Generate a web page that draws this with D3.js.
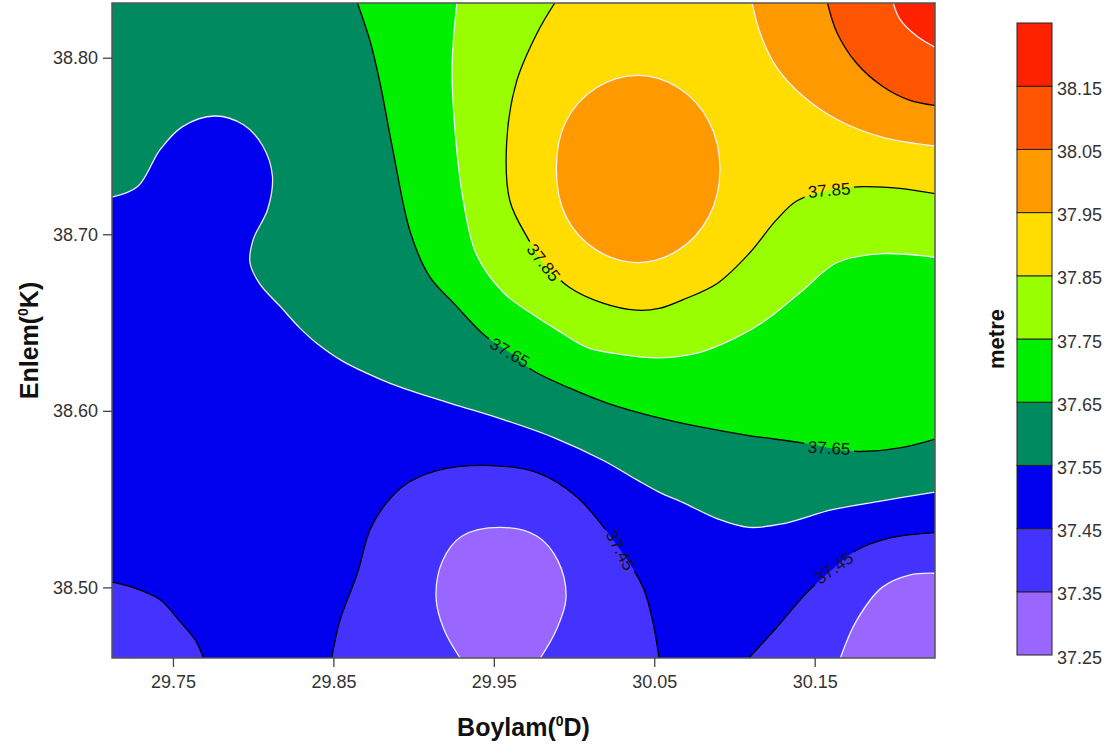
<!DOCTYPE html>
<html>
<head>
<meta charset="utf-8">
<script src="https://cdn.jsdelivr.net/npm/d3@7"></script>
<style>
  body { margin: 0; background: #fff; }
  text { font-family: "Liberation Sans", Arial, sans-serif; }
</style>
</head>
<body>
<div id="chart"></div>
<script>
/* * * * * * * * * * * * * * * *
 *   Contour map - metre        *
 * * * * * * * * * * * * * * * */

// axis ticks
const xTicks = [29.75, 29.85, 29.95, 30.05, 30.15];
const yTicks = [38.50, 38.60, 38.70, 38.80];

// contour levels and band colours (low -> high)
const levels = [37.25, 37.35, 37.45, 37.55, 37.65, 37.75, 37.85, 37.95, 38.05, 38.15, 38.25];
const bandColors = ["#9966ff", "#4433ff", "#0000ee", "#008a60", "#00f000",
                    "#99ff00", "#ffdd00", "#ff9900", "#ff5500", "#ff2200"];

// contour lines, [lon, lat]
const line3735mid = [[29.929,38.460],[29.919,38.476],[29.914,38.494],[29.918,38.515],[29.930,38.529],
  [29.954,38.534],[29.977,38.529],[29.990,38.515],[29.995,38.494],[29.989,38.476],[29.979,38.460]];
const line3735right = [[30.166,38.460],[30.176,38.481],[30.192,38.500],[30.209,38.507],[30.225,38.508]];

const line3745left = [[29.712,38.503],[29.725,38.500],[29.742,38.493],[29.754,38.481],[29.764,38.470],[29.769,38.460]];
const line3745mid = [[29.849,38.460],[29.854,38.481],[29.865,38.508],[29.874,38.535],[29.893,38.557],[29.914,38.566],
  [29.948,38.569],[29.977,38.565],[30.002,38.551],[30.029,38.521],[30.043,38.500],[30.049,38.481],[30.053,38.460]];
const line3745right = [[30.109,38.460],[30.126,38.477],[30.145,38.497],[30.162,38.511],[30.176,38.521],
  [30.197,38.528],[30.225,38.531]];

const line3755 = [[29.712,38.721],[29.728,38.727],[29.742,38.748],[29.756,38.761],[29.776,38.767],[29.794,38.762],
  [29.806,38.750],[29.812,38.733],[29.809,38.714],[29.800,38.697],[29.798,38.684],[29.804,38.672],[29.817,38.659],
  [29.829,38.647],[29.840,38.638],[29.856,38.628],[29.879,38.618],[29.893,38.613],[29.924,38.604],[29.956,38.595],
  [29.987,38.585],[30.018,38.572],[30.039,38.561],[30.053,38.554],[30.068,38.548],[30.089,38.539],[30.109,38.534],
  [30.130,38.536],[30.161,38.544],[30.192,38.549],[30.225,38.554]];

const line3765 = [[29.865,38.831],[29.873,38.809],[29.879,38.786],[29.887,38.748],[29.898,38.701],[29.910,38.676],
  [29.926,38.660],[29.944,38.643],[29.960,38.633],[29.974,38.623],[29.997,38.613],[30.022,38.604],[30.053,38.596],
  [30.078,38.591],[30.109,38.586],[30.141,38.582],[30.159,38.579],[30.176,38.577],[30.203,38.579],[30.225,38.584]];

const line3775 = [[29.927,38.831],[29.924,38.795],[29.926,38.757],[29.931,38.719],[29.939,38.689],[29.956,38.667],
  [29.977,38.653],[29.991,38.645],[30.008,38.636],[30.029,38.632],[30.053,38.630],[30.078,38.633],[30.100,38.641],
  [30.119,38.651],[30.141,38.667],[30.164,38.684],[30.192,38.689],[30.225,38.687]];

const line3785 = [[29.988,38.831],[29.977,38.814],[29.964,38.786],[29.958,38.752],[29.960,38.719],[29.971,38.698],
  [29.981,38.684],[29.997,38.670],[30.018,38.661],[30.039,38.657],[30.053,38.658],[30.068,38.663],[30.089,38.672],
  [30.109,38.689],[30.126,38.708],[30.139,38.719],[30.159,38.725],[30.180,38.727],[30.203,38.726],[30.225,38.723]];

const ring3795 = [[30.091,38.737],[30.084,38.764],[30.065,38.783],[30.040,38.790],[30.014,38.783],[29.995,38.764],
  [29.989,38.737],[29.995,38.710],[30.014,38.691],[30.040,38.684],[30.065,38.691],[30.084,38.710]];
const line3795 = [[30.111,38.831],[30.116,38.814],[30.126,38.795],[30.143,38.778],[30.164,38.765],[30.192,38.755],[30.225,38.750]];

const line3805 = [[30.158,38.831],[30.164,38.814],[30.176,38.797],[30.192,38.784],[30.209,38.776],[30.225,38.773]];
const line3815 = [[30.199,38.831],[30.203,38.822],[30.214,38.812],[30.225,38.806]];

// inline contour labels: [lon, lat, angle]
const labelText = ["37.85", "37.85", "37.65", "37.65", "37.45", "37.45"];
const labelPos = [[29.981,38.684,52],[30.159,38.725,-5],[29.960,38.633,30],[30.159,38.579,3],[30.029,38.521,62],[30.162,38.511,-35]];

// which side of each line is filled, and which plot corners close it
const contours = [
  { level: 37.45, side: "low", pts: line3745left, close: ["bl"] },
  { level: 37.45, side: "low", pts: line3745mid, close: [] },
  { level: 37.45, side: "low", pts: line3745right, close: ["br"] },
  { level: 37.35, side: "low", pts: line3735mid, close: [] },
  { level: 37.35, side: "low", pts: line3735right, close: ["br"] },
  { level: 37.55, side: "high", pts: line3755, close: ["tr", "tl"] },
  { level: 37.65, side: "high", pts: line3765, close: ["tr"] },
  { level: 37.75, side: "high", pts: line3775, close: ["tr"] },
  { level: 37.85, side: "high", pts: line3785, close: ["tr"] },
  { level: 37.95, side: "high", pts: ring3795, ring: true },
  { level: 37.95, side: "high", pts: line3795, close: ["tr"] },
  { level: 38.05, side: "high", pts: line3805, close: ["tr"] },
  { level: 38.15, side: "high", pts: line3815, close: ["tr"] }
];

// ---------------------------------------------------------
const W = 1113, H = 753;
const plot = { left: 112, top: 3, right: 935, bottom: 658 };

const svg = d3.select("#chart").append("svg")
  .attr("width", W).attr("height", H);

const x = d3.scaleLinear().domain([29.712, 30.225]).range([plot.left, plot.right]);
const y = d3.scaleLinear().domain([38.46, 38.831]).range([plot.bottom, plot.top]);

const corner = {
  tl: [x.domain()[0], y.domain()[1]],
  tr: [x.domain()[1], y.domain()[1]],
  bl: [x.domain()[0], y.domain()[0]],
  br: [x.domain()[1], y.domain()[0]]
};

const bandIndex = (lv) => Math.round((lv - levels[0]) / 0.1);

const openLine = d3.line().x(d => x(d[0])).y(d => y(d[1])).curve(d3.curveCatmullRom.alpha(0.5));
const ringLine = d3.line().x(d => x(d[0])).y(d => y(d[1])).curve(d3.curveCatmullRomClosed.alpha(0.5));

function fillPath(c) {
  if (c.ring) return ringLine(c.pts);
  let p = openLine(c.pts);
  c.close.forEach(k => { p += "L" + x(corner[k][0]) + "," + y(corner[k][1]); });
  return p + "Z";
}

svg.append("clipPath").attr("id", "plotClip")
  .append("rect")
  .attr("x", plot.left).attr("y", plot.top)
  .attr("width", plot.right - plot.left).attr("height", plot.bottom - plot.top);

const map = svg.append("g").attr("clip-path", "url(#plotClip)");

// background = band 37.45 - 37.55
map.append("rect")
  .attr("x", plot.left).attr("y", plot.top)
  .attr("width", plot.right - plot.left).attr("height", plot.bottom - plot.top)
  .attr("fill", bandColors[bandIndex(37.45)]);

// painter order: low regions from outer to inner, then high regions upward
const lows = contours.filter(c => c.side === "low").sort((a, b) => b.level - a.level);
const highs = contours.filter(c => c.side === "high").sort((a, b) => a.level - b.level);

map.selectAll(".band")
  .data(lows.concat(highs))
  .enter()
  .append("path")
  .attr("class", "band")
  .attr("d", fillPath)
  .attr("fill", d => d.side === "low" ? bandColors[bandIndex(d.level) - 1] : bandColors[bandIndex(d.level)]);

// mask so the lines break under the labels
const mask = svg.append("mask").attr("id", "labelMask");
mask.append("rect").attr("x", 0).attr("y", 0).attr("width", W).attr("height", H).attr("fill", "#fff");
mask.selectAll("rect.hole")
  .data(labelPos)
  .enter()
  .append("rect")
  .attr("class", "hole")
  .attr("x", -25).attr("y", -8).attr("width", 50).attr("height", 16)
  .attr("fill", "#000")
  .attr("transform", d => `translate(${x(d[0])},${y(d[1])}) rotate(${d[2]})`);

map.append("g")
  .attr("mask", "url(#labelMask)")
  .selectAll("path")
  .data(contours)
  .enter()
  .append("path")
  .attr("d", d => d.ring ? ringLine(d.pts) : openLine(d.pts))
  .attr("fill", "none")
  .attr("stroke", d => bandIndex(d.level) % 2 === 1 ? "#eeeeff" : "#000")
  .attr("stroke-width", 1.3);

map.selectAll(".clabel")
  .data(labelPos)
  .enter()
  .append("text")
  .attr("class", "clabel")
  .attr("transform", d => `translate(${x(d[0])},${y(d[1])}) rotate(${d[2]})`)
  .attr("text-anchor", "middle")
  .attr("dy", "0.35em")
  .attr("font-size", 17)
  .attr("fill", "#151515")
  .text((d, i) => labelText[i]);

// frame
svg.append("rect")
  .attr("x", plot.left).attr("y", plot.top)
  .attr("width", plot.right - plot.left).attr("height", plot.bottom - plot.top)
  .attr("fill", "none").attr("stroke", "#555").attr("stroke-width", 1.5);

// axes
const xAxis = svg.append("g")
  .attr("transform", `translate(0,${plot.bottom})`)
  .call(d3.axisBottom(x).tickValues(xTicks).tickFormat(d3.format(".2f")).tickSize(9).tickPadding(8));
const yAxis = svg.append("g")
  .attr("transform", `translate(${plot.left},0)`)
  .call(d3.axisLeft(y).tickValues(yTicks).tickFormat(d3.format(".2f")).tickSize(9).tickPadding(5));

[xAxis, yAxis].forEach(a => {
  a.select(".domain").remove();
  a.selectAll(".tick line").attr("stroke", "#444").attr("stroke-width", 1.3);
  a.selectAll(".tick text").attr("font-size", 18).attr("fill", "#333")
    .style("font-family", "'Liberation Sans', Arial, sans-serif");
});

// axis titles
const xt = svg.append("text")
  .attr("x", (plot.left + plot.right) / 2).attr("y", 736)
  .attr("text-anchor", "middle").attr("font-size", 25).attr("font-weight", "bold").attr("fill", "#111");
xt.append("tspan").text("Boylam(");
xt.append("tspan").attr("font-size", 14).attr("dy", -10).text("0");
xt.append("tspan").attr("dy", 10).text("D)");

const yt = svg.append("text")
  .attr("transform", `translate(38,${(plot.top + plot.bottom) / 2 + 10}) rotate(-90)`)
  .attr("text-anchor", "middle").attr("font-size", 25).attr("font-weight", "bold").attr("fill", "#111");
yt.append("tspan").text("Enlem(");
yt.append("tspan").attr("font-size", 14).attr("dy", -10).text("0");
yt.append("tspan").attr("dy", 10).text("K)");

// colour bar
const bar = { x: 1017, w: 35, top: 23, bottom: 655 };
const cy = d3.scaleLinear().domain([levels[0], levels[levels.length - 1]]).range([bar.bottom, bar.top]);

const legend = svg.append("g");
legend.selectAll("rect")
  .data(bandColors)
  .enter()
  .append("rect")
  .attr("x", bar.x)
  .attr("y", (d, i) => cy(levels[i + 1]))
  .attr("width", bar.w)
  .attr("height", (d, i) => cy(levels[i]) - cy(levels[i + 1]))
  .attr("fill", d => d)
  .attr("stroke", "#222")
  .attr("stroke-width", 1);

const cAxis = legend.append("g")
  .attr("transform", `translate(${bar.x + bar.w},0)`)
  .call(d3.axisRight(cy).tickValues(levels.slice(0, -1)).tickFormat(d3.format(".2f")).tickSize(0).tickPadding(5));
cAxis.select(".domain").remove();
cAxis.selectAll(".tick text").attr("font-size", 18).attr("fill", "#333").attr("dy", "0.45em")
  .style("font-family", "'Liberation Sans', Arial, sans-serif");

svg.append("text")
  .attr("transform", `translate(1004,${(bar.top + bar.bottom) / 2}) rotate(-90)`)
  .attr("text-anchor", "middle")
  .attr("font-size", 22).attr("font-weight", "bold").attr("fill", "#111")
  .text("metre");
</script>
</body>
</html>
